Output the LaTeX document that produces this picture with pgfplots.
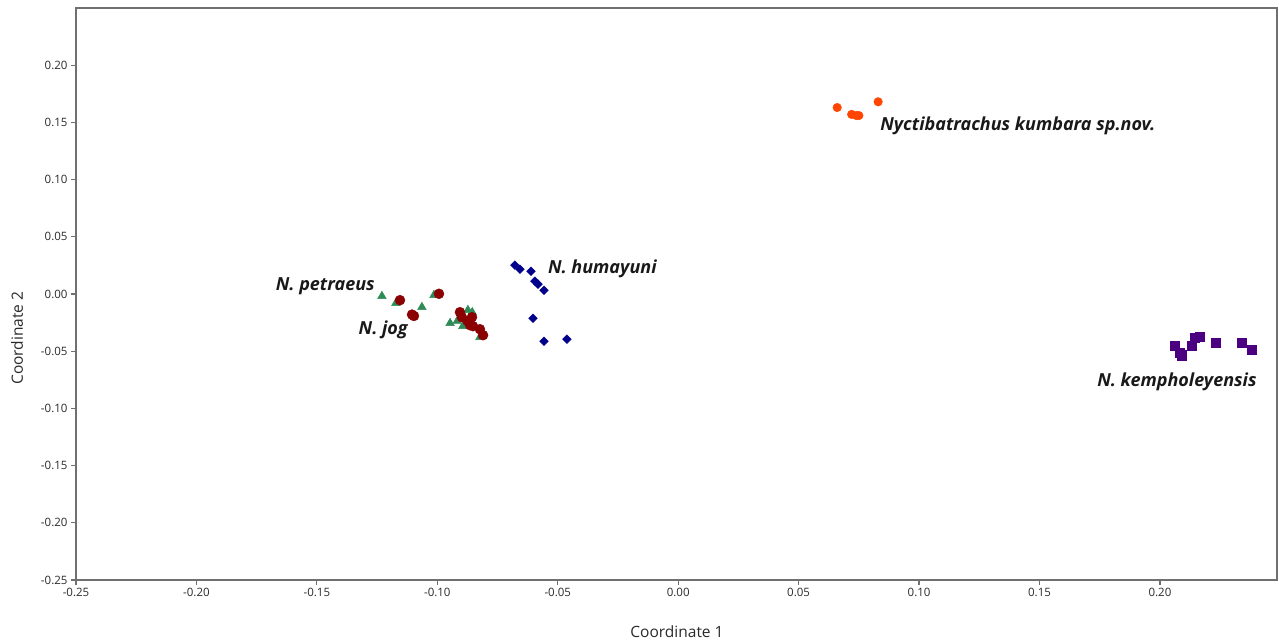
\documentclass[border=0pt]{standalone}
\usepackage{pgfplots}
\pgfplotsset{compat=1.18}
\usepackage{fontspec}
\setmainfont{Open Sans}
\definecolor{axgray}{HTML}{707070}
\definecolor{txtgray}{HTML}{2A2A2A}
\definecolor{corange}{HTML}{FF4500}
\definecolor{cred}{HTML}{8B0000}
\definecolor{cgreen}{HTML}{2E8B57}
\definecolor{cblue}{HTML}{00008B}
\definecolor{cpurple}{HTML}{4B0082}
\begin{document}
\begin{tikzpicture}[x=1pt,y=1pt]
\begin{axis}[
  at={(76pt,62pt)}, anchor=south west,
  scale only axis, width=1201pt, height=572pt,
  xmin=-0.25, xmax=0.2486, ymin=-0.25, ymax=0.25,
  axis line style={axgray, line width=1.3pt},
  xtick={-0.25,-0.20,-0.15,-0.10,-0.05,0,0.05,0.10,0.15,0.20},
  xticklabels={-0.25,-0.20,-0.15,-0.10,-0.05,0.00,0.05,0.10,0.15,0.20},
  ytick={-0.25,-0.20,-0.15,-0.10,-0.05,0,0.05,0.10,0.15,0.20},
  yticklabels={-0.25,-0.20,-0.15,-0.10,-0.05,0.00,0.05,0.10,0.15,0.20},
  tick align=outside, xtick pos=bottom, ytick pos=left,
  major tick length=5pt,
  tick style={axgray, line width=1.2pt},
  ticklabel style={font=\fontsize{11.5}{14}\selectfont, text=txtgray},
  clip=false,
]
\addplot[only marks, mark=triangle*, mark size=5pt, color=cgreen] coordinates {
(-0.123,-0.0019) (-0.1172,-0.008) (-0.1064,-0.0115) (-0.1014,-0.001)
(-0.0947,-0.0255) (-0.0918,-0.0238) (-0.0873,-0.0141) (-0.0894,-0.0281)
(-0.0873,-0.0255) (-0.0823,-0.0377) (-0.0855,-0.016)
};
\addplot[only marks, mark=*, mark size=5pt, color=cred] coordinates {
(-0.1155,-0.0054) (-0.1105,-0.018) (-0.1097,-0.0192) (-0.0993,0.0002)
(-0.0906,-0.0159) (-0.0898,-0.0203) (-0.0856,-0.0203) (-0.0864,-0.0273)
(-0.0852,-0.0281) (-0.0823,-0.0308) (-0.081,-0.036) (-0.0875,-0.0235)
};
\addplot[only marks, mark=square*, mark size=3.1pt, mark options={rotate=45}, color=cblue] coordinates {
(-0.0678,0.0252) (-0.0657,0.0217) (-0.0611,0.0199) (-0.0595,0.0112)
(-0.0582,0.0086) (-0.0557,0.0033) (-0.0603,-0.0212) (-0.0557,-0.0413)
(-0.0462,-0.0395)
};
\addplot[only marks, mark=*, mark size=4.3pt, color=corange] coordinates {
(0.066,0.163) (0.072,0.157) (0.074,0.156) (0.075,0.156) (0.083,0.168)
};
\addplot[only marks, mark=square*, mark size=4.5pt, color=cpurple] coordinates {
(0.2062,-0.0448) (0.2083,-0.0509) (0.2091,-0.0535) (0.2133,-0.0448)
(0.2145,-0.0386) (0.2166,-0.0369) (0.2232,-0.043) (0.234,-0.043)
(0.2382,-0.0483)
};
\tikzset{sp/.style={font=\fontsize{18}{21}\selectfont\bfseries\itshape, text=black!90, inner sep=0pt}}
\node[sp, anchor=east] at (axis cs:-0.1259,0.0068) {N. petraeus};
\node[sp, anchor=east] at (axis cs:-0.1122,-0.0316) {N. jog};
\node[sp, anchor=west] at (axis cs:-0.0541,0.0217) {N. humayuni};
\node[sp, anchor=west] at (axis cs:0.0838,0.1467) {Nyctibatrachus kumbara sp.nov.};
\node[sp, anchor=east] at (axis cs:0.2402,-0.0771) {N. kempholeyensis};
\end{axis}
\node[font=\fontsize{15.5}{18}\selectfont, text=txtgray] at (677pt,10pt) {Coordinate 1};
\node[font=\fontsize{15.5}{18}\selectfont, text=txtgray, rotate=90] at (17pt,304pt) {Coordinate 2};
\pgfresetboundingbox
\useasboundingbox (0,0) rectangle (1279pt,642pt);
\end{tikzpicture}
\end{document}
